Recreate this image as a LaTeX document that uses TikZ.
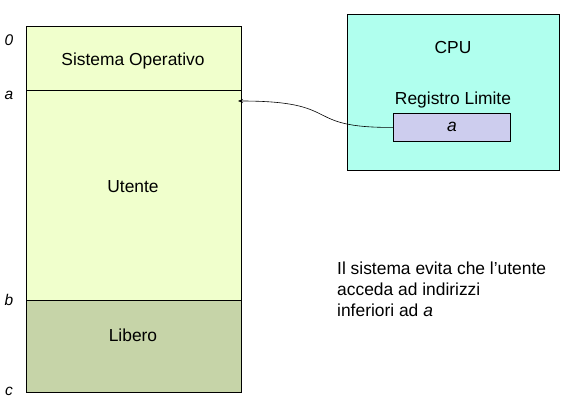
\documentclass[tikz,border=0pt]{standalone}
\usepackage{fontspec}
\setmainfont{Liberation Sans}
\usetikzlibrary{arrows.meta}
\definecolor{usercol}{HTML}{F0FFCC}
\definecolor{freecol}{HTML}{C6D4A8}
\definecolor{cpucol}{HTML}{B0FFEE}
\definecolor{regcol}{HTML}{CDCDEE}
\begin{document}
\begin{tikzpicture}[x=1pt,y=-1pt,
  txt/.style={font=\fontsize{17.4}{21}\selectfont, inner sep=0pt},
  addr/.style={font=\fontsize{15.5}{18}\selectfont\itshape, inner sep=0pt},
  region/.style={draw=black, line width=0.8pt, inner sep=0pt, anchor=north west}]
\useasboundingbox (0,0) rectangle (580,403);
% memory
\node[region, fill=usercol, minimum width=215pt, minimum height=64pt] (so) at (26,26) {};
\node[region, fill=usercol, minimum width=215pt, minimum height=210pt] (ut) at (26,90) {};
\node[region, fill=freecol, minimum width=215pt, minimum height=92pt] (lib) at (26,300) {};
\node[txt] (sot) at (133,61) {Sistema Operativo};
\node[txt] (utt) at (133,187) {Utente};
\node[txt] (libt) at (133,335) {Libero};
\node[addr] (a0) at (9,40) {0};
\node[addr] (aa) at (9,95) {a};
\node[addr] (ab) at (9,300) {b};
\node[addr] (ac) at (9,391) {c};
% CPU
\node[region, fill=cpucol, minimum width=212pt, minimum height=156pt] (cpu) at (347,14) {};
\node[txt] (cput) at (453,48) {CPU};
\node[txt] (regt) at (453,100) {Registro Limite};
\node[region, fill=regcol, minimum width=117pt, minimum height=28pt] (reg) at (393,113) {};
\node[txt, font=\fontsize{17.4}{21}\selectfont\itshape] (rega) at (reg.center) {a};
\coordinate (tip) at (238,101);
\draw[line width=0.6pt, -{Stealth[length=5pt,width=4pt]}] (reg.west) .. controls (300,128) and (345,101) .. (tip);
% note
\node[txt, align=left, anchor=north west] (note) at (337,262) {Il sistema evita che l’utente\\acceda ad indirizzi\\inferiori ad \textit{a}};
\end{tikzpicture}
\end{document}
